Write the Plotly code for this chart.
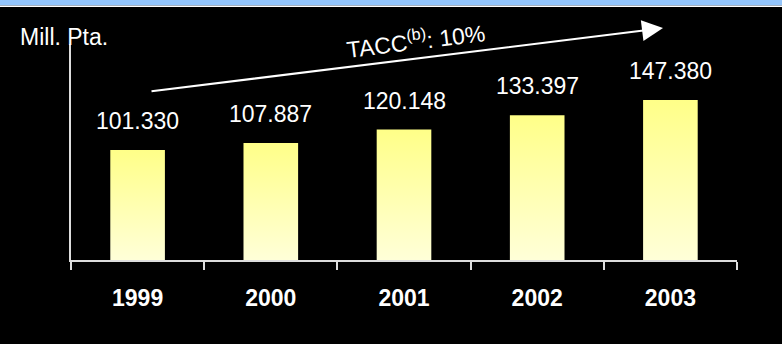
import plotly.graph_objects as go

# Revenue per year (millions of pesetas)
years = ["1999", "2000", "2001", "2002", "2003"]
values = [101.330, 107.887, 120.148, 133.397, 147.380]
value_labels = ["101.330", "107.887", "120.148", "133.397", "147.380"]
unit_label = "Mill. Pta."
growth_label = "TACC<sup>(b)</sup>: 10%"

W, H = 782, 344
L, R, T, B = 71, 45, 44, 84
PW, PH = W - L - R, H - T - B


def px_x(p):
    return (p - L) / PW


def px_y(p):
    return (H - B - p) / PH


FONT = "Liberation Sans, Arial, sans-serif"
BAR_HALF = 0.205

fig = go.Figure()

# bars as filled areas with a vertical yellow gradient
for i, v in enumerate(values):
    fig.add_trace(go.Scatter(
        x=[i - BAR_HALF, i + BAR_HALF], y=[v, v],
        mode="lines", line=dict(width=0, color="rgba(0,0,0,0)"),
        fill="tozeroy",
        fillgradient=dict(type="vertical",
                          colorscale=[[0, "#FFFFD8"], [1, "#FFFF88"]]),
        hoverinfo="skip", showlegend=False,
    ))

# value labels above each bar
for i, (v, lab) in enumerate(zip(values, value_labels)):
    fig.add_annotation(x=i, y=v, text=lab, showarrow=False,
                       xref="x", yref="y", yanchor="middle", yshift=29,
                       font=dict(family=FONT, size=23, color="white"))

# unit label
fig.add_annotation(x=px_x(18), y=px_y(37), xref="paper", yref="paper",
                   text=unit_label, showarrow=False, xanchor="left",
                   yanchor="middle", font=dict(family=FONT, size=23, color="white"))

# growth arrow
fig.add_annotation(x=px_x(663), y=px_y(28), xref="paper", yref="paper",
                   text="", showarrow=True, ax=150 - 663, ay=91.5 - 28,
                   arrowhead=2, arrowwidth=2, arrowsize=2.1, arrowcolor="white")
fig.add_annotation(x=px_x(415), y=px_y(14), xref="paper", yref="paper",
                   text=growth_label, showarrow=False, textangle=-7,
                   font=dict(family=FONT, size=23, color="white"))

# top banner
fig.add_shape(type="rect", xref="paper", yref="paper",
              x0=px_x(0), x1=px_x(W), y0=px_y(5.5), y1=px_y(0),
              line=dict(width=0), fillcolor="#93C5FB", layer="above")
fig.add_shape(type="rect", xref="paper", yref="paper",
              x0=px_x(0), x1=px_x(W), y0=px_y(7), y1=px_y(5.5),
              line=dict(width=0), fillcolor="white", layer="above")

fig.update_layout(
    width=W, height=H,
    margin=dict(l=L, r=R, t=T, b=B, pad=0),
    paper_bgcolor="black", plot_bgcolor="black",
    showlegend=False,
    xaxis=dict(
        range=[-0.5, 4.5], tickmode="array", tickvals=list(range(len(years))),
        ticktext=years, ticks="", showgrid=False, zeroline=False,
        showline=True, linecolor="#dddddd", linewidth=1.5,
        tickfont=dict(family=FONT, size=23, color="white", weight="bold"),
        ticklabelstandoff=17,
        minor=dict(tickmode="array",
                   tickvals=[k - 0.5 for k in range(len(years) + 1)],
                   ticks="outside", ticklen=8, tickwidth=1.5,
                   tickcolor="#dddddd", showgrid=False),
    ),
    yaxis=dict(
        range=[0, 199], showticklabels=False, ticks="", showgrid=False,
        zeroline=False, showline=True, linecolor="#dddddd", linewidth=1.5,
    ),
)

fig.write_html("out.html")
